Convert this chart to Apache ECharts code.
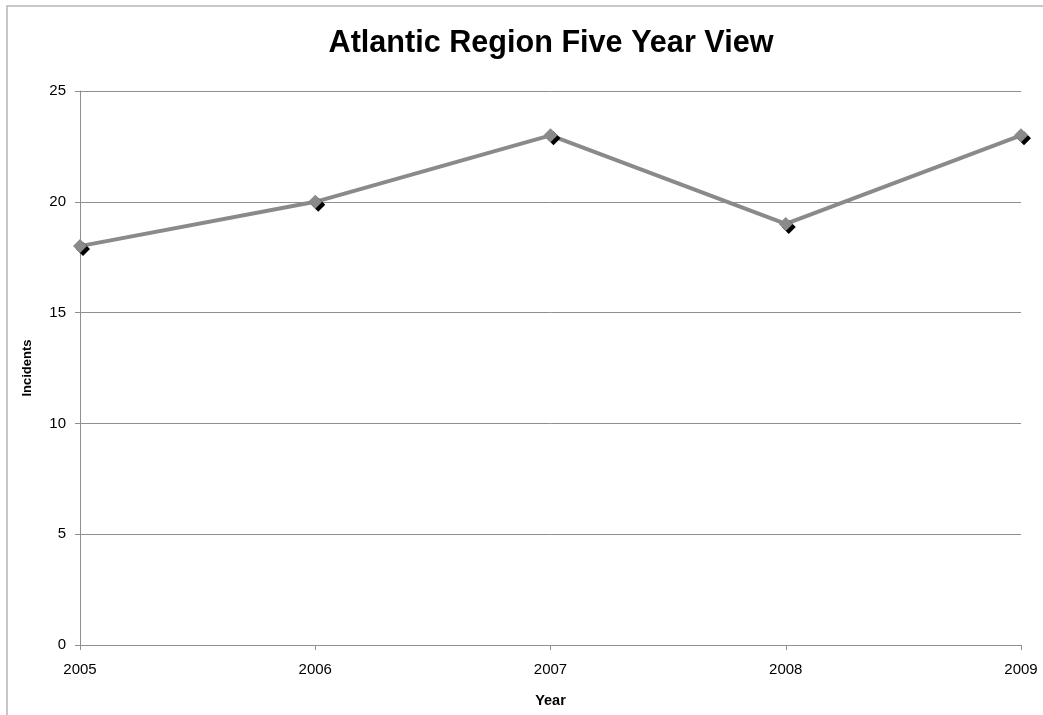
<!DOCTYPE html>
<html>
<head>
<meta charset="utf-8">
<script src="https://cdn.jsdelivr.net/npm/echarts@6/dist/echarts.min.js"></script>
<style>html,body{margin:0;padding:0;background:#fff}#c{width:1043px;height:715px}</style>
</head>
<body>
<div id="c"></div>
<script>
const years = ['2005', '2006', '2007', '2008', '2009'];
const incidents = [18, 20, 23, 19, 23];
const yTicks = { min: 0, max: 25, interval: 5 };

const chart = echarts.init(document.getElementById('c'));
const font = '"Liberation Sans", Arial, sans-serif';
chart.setOption({
  animation: false,
  backgroundColor: '#fff',
  graphic: [{
    type: 'rect', shape: { x: 7, y: 6, width: 1100, height: 800 },
    style: { fill: 'none', stroke: '#b5b5b5', lineWidth: 1.5 }, silent: true, z: -1
  }],
  title: {
    text: 'Atlantic Region Five Year View', left: 546, top: 23, textAlign: 'center',
    textStyle: { fontFamily: font, fontSize: 30.6, fontWeight: 'bold', color: '#000' }
  },
  grid: { left: 80, right: 22, top: 91, bottom: 70, containLabel: false },
  xAxis: {
    type: 'category', data: years, boundaryGap: false,
    name: 'Year', nameLocation: 'middle', nameGap: 48,
    nameTextStyle: { fontFamily: font, fontSize: 14.5, fontWeight: 'bold', color: '#000' },
    axisLine: { lineStyle: { color: '#8f8f8f', width: 1 } },
    axisTick: { show: true, length: 5, inside: false, lineStyle: { color: '#8f8f8f' } },
    axisLabel: { fontFamily: font, fontSize: 15, color: '#000', margin: 17 },
    splitLine: { show: false }
  },
  yAxis: {
    type: 'value', min: yTicks.min, max: yTicks.max, interval: yTicks.interval,
    name: 'Incidents', nameLocation: 'middle', nameGap: 46,
    nameTextStyle: { fontFamily: font, fontSize: 13, fontWeight: 'bold', color: '#000' },
    axisLine: { show: true, lineStyle: { color: '#8f8f8f', width: 1 } },
    axisTick: { show: true, length: 5, lineStyle: { color: '#8f8f8f' } },
    axisLabel: { fontFamily: font, fontSize: 15, color: '#000', margin: 14 },
    splitLine: { show: true, lineStyle: { color: '#8f8f8f', width: 1 } }
  },
  series: [{
    type: 'line', data: incidents,
    symbol: 'path://M0,-1L1,0L0,1L-1,0Z', symbolSize: 14, showAllSymbol: true,
    lineStyle: { color: '#8a8a8a', width: 4 },
    itemStyle: { color: '#8a8a8a', shadowColor: '#000', shadowOffsetX: 3, shadowOffsetY: 3, shadowBlur: 0 },
    z: 3
  }]
});
</script>
</body>
</html>
